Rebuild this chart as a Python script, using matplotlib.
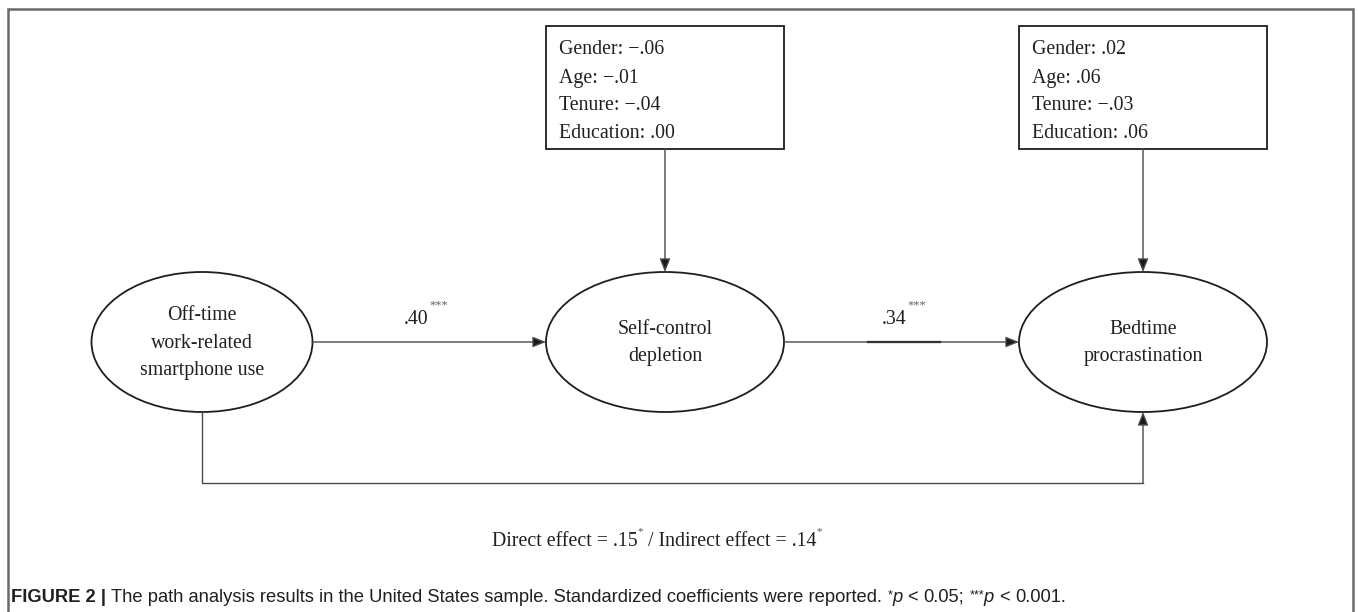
import matplotlib
matplotlib.use("Agg")
import matplotlib.pyplot as plt
from matplotlib.patches import Ellipse, Rectangle

# ---------------- data ----------------
node_labels = ["Off-time\nwork-related\nsmartphone use",
               "Self-control\ndepletion",
               "Bedtime\nprocrastination"]
control_names = ["Gender", "Age", "Tenure", "Education"]
controls_depletion = ["\u2212.06", "\u2212.01", "\u2212.04", ".00"]
controls_procrastination = [".02", ".06", "\u2212.03", ".06"]
path_coefs = [".40", ".34"]
path_sig = ["***", "***"]
direct_effect, direct_sig = ".15", "*"
indirect_effect, indirect_sig = ".14", "*"
caption_head = "FIGURE 2 |"
caption_body = ("The path analysis results in the United States sample. "
                "Standardized coefficients were reported.")

# ---------------- layout ----------------
W, H = 1358, 612
fig = plt.figure(figsize=(W / 100, H / 100), dpi=100)
ax = fig.add_axes([0, 0, 1, 1])
ax.set_xlim(0, W)
ax.set_ylim(H, 0)
ax.axis("off")

TXT = "#231f20"
SERIF = "Liberation Serif"
SANS = "Liberation Sans"
node_cx = [202, 665, 1143]
node_w = [221, 238, 248]
node_cy, node_h = 342, 140
box_top, box_h = 26, 123
line_gap = 28

# outer frame
ax.plot([8, 8, 1353, 1353], [H + 5, 9, 9, H + 5], color="#6a6a6a", lw=1.8,
        solid_joinstyle="miter")

def arrow(x0, y0, x1, y1):
    ax.annotate("", xy=(x1, y1), xytext=(x0, y0),
                arrowprops=dict(arrowstyle="-|>,head_length=0.8,head_width=0.32",
                                mutation_scale=10, shrinkA=0, shrinkB=0,
                                lw=1.0, ec="#4a4a4a", fc="#1a1a1a"))

# ellipses
for cx, w, lab in zip(node_cx, node_w, node_labels):
    ax.add_patch(Ellipse((cx, node_cy), w, node_h, fill=False,
                         ec="#1e1e1e", lw=1.3))
    n = lab.count("\n") + 1
    for i, line in enumerate(lab.split("\n")):
        ax.text(cx, node_cy + 1 + (i - (n - 1) / 2) * 27.5, line, ha="center",
                va="center", fontsize=14.3, family=SERIF, color=TXT)

# control boxes
for cx, w, vals in [(node_cx[1], node_w[1], controls_depletion),
                    (node_cx[2], node_w[2], controls_procrastination)]:
    left = cx - w / 2
    ax.add_patch(Rectangle((left, box_top), w, box_h, fill=False,
                           ec="#1e1e1e", lw=1.3))
    for i, (nm, v) in enumerate(zip(control_names, vals)):
        ax.text(left + 13, 50 + i * line_gap, f"{nm}: {v}", ha="left",
                va="center", fontsize=14.3, family=SERIF, color=TXT)
    arrow(cx, box_top + box_h, cx, node_cy - node_h / 2)

# horizontal paths
for k in range(2):
    x0 = node_cx[k] + node_w[k] / 2
    x1 = node_cx[k + 1] - node_w[k + 1] / 2
    arrow(x0, node_cy, x1, node_cy)
lab_x = [428, 906]
for k in range(2):
    ax.text(lab_x[k], 319, path_coefs[k], ha="right", va="center",
            fontsize=14.3, family=SERIF, color=TXT)
    ax.text(lab_x[k] + 1, 305, path_sig[k], ha="left", va="center",
            fontsize=9, family=SERIF, color="#666666")
ax.plot([868, 940], [node_cy, node_cy], color="black", lw=1.6)

# direct path (bottom)
yb = 483
ax.plot([node_cx[0], node_cx[0], node_cx[2]],
        [node_cy + node_h / 2, yb, yb], color="#4a4a4a", lw=1.0)
arrow(node_cx[2], yb, node_cx[2], node_cy + node_h / 2)

fig.canvas.draw()
r = fig.canvas.get_renderer()

def width(s, **kw):
    t = ax.text(0, 0, s, **kw)
    w = t.get_window_extent(renderer=r).width
    t.remove()
    return w

def rich(x, y, pieces, base):
    sp = width("a a", **base) - width("aa", **base)
    for s, extra, dy, gap in pieces:
        kw = dict(base)
        kw.update(extra)
        t = ax.text(x, y + dy, s, ha="left", va="baseline", **kw)
        x += t.get_window_extent(renderer=r).width + (sp if gap else 0)
    return x

# effects text (centred)
base_e = dict(fontsize=14.3, family=SERIF, color=TXT)
star = dict(fontsize=8, color="#555555")
eff_pieces = [("Direct effect = " + direct_effect, {}, 0, False),
              (direct_sig, star, -12, True),
              ("/ Indirect effect = " + indirect_effect, {}, 0, False),
              (indirect_sig, star, -12, False)]
total = 0
sp_e = width("a a", **base_e) - width("aa", **base_e)
for s, extra, dy, gap in eff_pieces:
    kw = dict(base_e); kw.update(extra)
    total += width(s, **kw) + (sp_e if gap else 0)
rich(657 - total / 2, 546, eff_pieces, base_e)

# caption
base_c = dict(fontsize=13.2, family=SANS, color=TXT)
cstar = dict(fontsize=9)
cap_pieces = [(caption_head, dict(weight="bold"), 0, True),
              (caption_body, {}, 0, True),
              ("*", cstar, -4, False),
              ("p", dict(style="italic"), 0, True),
              ("<", {}, 0, True),
              ("0.05;", {}, 0, True),
              ("***", cstar, -4, False),
              ("p", dict(style="italic"), 0, True),
              ("<", {}, 0, True),
              ("0.001.", {}, 0, False)]
rich(11, 602, cap_pieces, base_c)

fig.savefig("out.png", dpi=100)
